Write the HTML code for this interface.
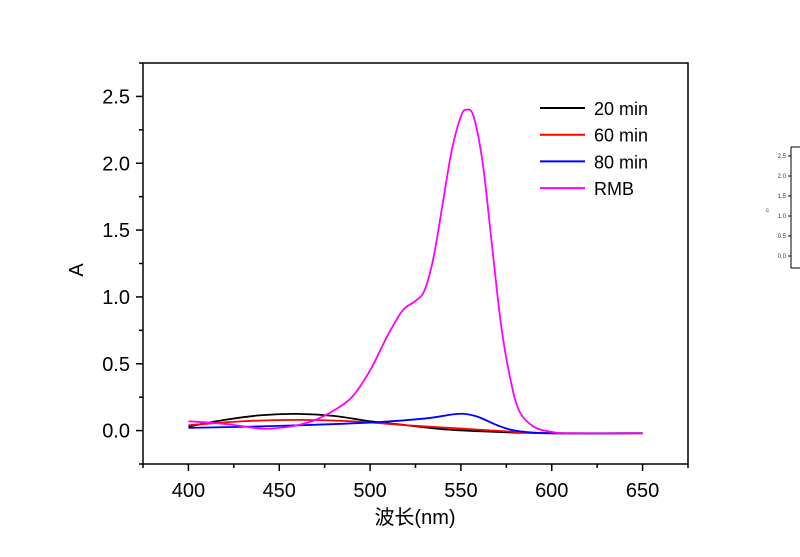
<!DOCTYPE html>
<html><head><meta charset="utf-8"><style>
body{margin:0;background:#fff;}
svg{display:block;font-family:"Liberation Sans","Noto Sans CJK SC",sans-serif;}
</style></head><body>
<svg id="c" width="800" height="557"></svg>
<script>
const xTicks=[400,450,500,550,600,650];
const yTicks=[0.0,0.5,1.0,1.5,2.0,2.5];
const seriesNames=["20 min","60 min","80 min","RMB"];
const seriesColors=["#000000","#ff0000","#0000ff","#ff00ff"];
const wl20=[400,420,440,460,480,500,520,540,560,580,600,650];
const a20=[0.03,0.08,0.115,0.125,0.11,0.07,0.04,0.01,-0.005,-0.015,-0.02,-0.02];
const wl60=[400,430,460,490,520,550,580,600,650];
const a60=[0.04,0.07,0.08,0.07,0.04,0.015,-0.01,-0.02,-0.02];
const wl80=[400,450,500,530,545,552,560,570,580,600,650];
const a80=[0.02,0.035,0.06,0.09,0.12,0.125,0.1,0.04,0.0,-0.02,-0.02];
const wlR=[400,420,440,450,460,470,480,490,500,510,518,525,530,535,540,545,550,553,557,562,567,572,577,582,590,600,610,650];
const aR=[0.07,0.05,0.015,0.02,0.04,0.08,0.15,0.25,0.45,0.72,0.9,0.97,1.05,1.3,1.7,2.1,2.35,2.4,2.35,2.0,1.4,0.8,0.4,0.15,0.03,-0.01,-0.02,-0.02];
const X0=143,X1=688,Y0=464,Y1=63,xmin=375,xmax=675,ymin=-0.25,ymax=2.75;
const sx=v=>X0+(v-xmin)/(xmax-xmin)*(X1-X0);
const sy=v=>Y0-(v-ymin)/(ymax-ymin)*(Y0-Y1);
const svg=document.getElementById('c');const NS='http://www.w3.org/2000/svg';
function mk(t,a,p){const e=document.createElementNS(NS,t);for(const k in a)e.setAttribute(k,a[k]);(p||svg).appendChild(e);return e;}
let e=mk('rect',{x:X0,y:Y1,width:X1-X0,height:Y0-Y1,fill:'none',stroke:'#000','stroke-width':1.5});


for(let v=375;v<=675;v+=25){const maj=v%50==0;
 e=mk('line',{x1:sx(v),x2:sx(v),y1:Y0,y2:Y0+(maj?7:4),stroke:'#000','stroke-width':1.5});
 
 }
xTicks.forEach(v=>{e=mk('text',{x:sx(v),y:497,'text-anchor':'middle','font-size':20});e.textContent=v;
 
 });
for(let v=-0.25;v<=2.76;v+=0.25){const maj=Math.abs(v*2-Math.round(v*2))<1e-6;
 e=mk('line',{x1:X0,x2:X0-(maj?7:4),y1:sy(v),y2:sy(v),stroke:'#000','stroke-width':1.5});
 
 }
yTicks.forEach(v=>{e=mk('text',{x:130,y:sy(v)+7,'text-anchor':'end','font-size':20});e.textContent=v.toFixed(1);
 
 });
e=mk('text',{x:0,y:0,'font-size':20,transform:'translate(83,270) rotate(-90)','text-anchor':'middle'});e.textContent='A';


e=mk('text',{x:415,y:524,'font-size':20,'text-anchor':'middle'});e.textContent='波长(nm)';


const data=[[wl20,a20],[wl60,a60],[wl80,a80],[wlR,aR]];
data.forEach((d,i)=>{const pts=d[0].map((w,j)=>[sx(w),sy(d[1][j])]);
 let p='M'+pts[0];for(let j=1;j<pts.length;j++){const a=pts[j-1],b=pts[j],pa=pts[j-2]||a,pb=pts[j+1]||b;
 p+=` C${a[0]+(b[0]-pa[0])/6},${a[1]+(b[1]-pa[1])/6} ${b[0]-(pb[0]-a[0])/6},${b[1]-(pb[1]-a[1])/6} ${b[0]},${b[1]}`;}
 e=mk('path',{d:p,fill:'none',stroke:seriesColors[i],'stroke-width':1.8});
 
 
 const ly=108+i*26.7;
 e=mk('line',{x1:540,x2:585,y1:ly,y2:ly,stroke:seriesColors[i],'stroke-width':2});
 
 
 e=mk('text',{x:594,y:ly+7,'font-size':18});e.textContent=seriesNames[i];
 
 });
// mini axis at right edge
const g=mk('g',{});


mk('line',{x1:791,x2:791,y1:147,y2:268,stroke:'#000','stroke-width':1},g);
mk('line',{x1:791,x2:800,y1:147,y2:147,stroke:'#000','stroke-width':1},g);
mk('line',{x1:791,x2:800,y1:268,y2:268,stroke:'#000','stroke-width':1},g);
yTicks.forEach((v,i)=>{const y=256-i*20;mk('line',{x1:788,x2:791,y1:y,y2:y,stroke:'#000','stroke-width':1},g);
 const t=mk('text',{x:786,y:y+2,'font-size':6,'text-anchor':'end',fill:'#333'},g);t.textContent=v.toFixed(1);});
const tc=mk('text',{x:766,y:212,'font-size':6,fill:'#333'},g);tc.textContent='c';
</script>
</body></html>
